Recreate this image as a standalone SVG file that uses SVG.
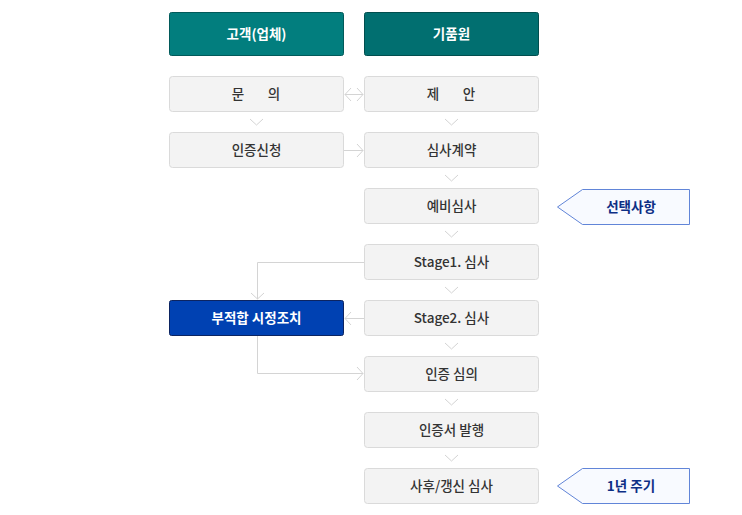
<svg xmlns="http://www.w3.org/2000/svg" width="742" height="515" viewBox="0 0 742 515">
<style>
text{font-family:"Noto Sans CJK KR","Noto Sans",sans-serif;font-size:13.5px;text-anchor:middle;dominant-baseline:central}
.box{fill:#f3f3f3;stroke:#dadada;stroke-width:1}
.bt{fill:#333;font-weight:500}
.hd{fill:#fff;font-weight:700}
.ln{fill:none;stroke:#d4d4d4;stroke-width:1}
.chev{fill:none;stroke:#d4d4d4;stroke-width:1}
.call{fill:#f8faff;stroke:#6185d8;stroke-width:1}
.ct{fill:#0d2f85;font-weight:700}
</style>
<rect width="742" height="515" fill="#fff"/>
<g id="hdr-client"><rect x="169.5" y="12.5" width="174" height="43" rx="2" fill="#027e7e" stroke="#015a5a"/><text class="hd" x="256.5" y="32.5">고객(업체)</text></g>
<g id="hdr-kpm"><rect x="364.5" y="12.5" width="174" height="43" rx="2" fill="#016f70" stroke="#014e4e"/><text class="hd" x="451.5" y="32.5">기품원</text></g>
<g id="n-inquiry"><rect class="box" x="169.5" y="76.5" width="174" height="35" rx="3"/><text class="bt" y="92.5"><tspan x="238">문</tspan><tspan x="274">의</tspan></text></g>
<g id="n-proposal"><rect class="box" x="364.5" y="76.5" width="174" height="35" rx="3"/><text class="bt" y="92.5"><tspan x="433">제</tspan><tspan x="469">안</tspan></text></g>
<g id="n-apply"><rect class="box" x="169.5" y="132.5" width="174" height="35" rx="3"/><text class="bt" x="256.5" y="148.5">인증신청</text></g>
<g id="n-contract"><rect class="box" x="364.5" y="132.5" width="174" height="35" rx="3"/><text class="bt" x="451.5" y="148.5">심사계약</text></g>
<g id="n-pre"><rect class="box" x="364.5" y="188.5" width="174" height="35" rx="3"/><text class="bt" x="451.5" y="204.5">예비심사</text></g>
<g id="n-stage1"><rect class="box" x="364.5" y="244.5" width="174" height="35" rx="3"/><text class="bt" x="451.5" y="260.5">Stage1. 심사</text></g>
<g id="n-stage2"><rect class="box" x="364.5" y="300.5" width="174" height="35" rx="3"/><text class="bt" x="451.5" y="316.5">Stage2. 심사</text></g>
<g id="n-nc"><rect x="169.5" y="300.5" width="174" height="35" rx="2" fill="#0041b2" stroke="#0c2461"/><text class="hd" x="256.5" y="316.5">부적합 시정조치</text></g>
<g id="n-review"><rect class="box" x="364.5" y="356.5" width="174" height="35" rx="3"/><text class="bt" x="451.5" y="372.5">인증 심의</text></g>
<g id="n-issue"><rect class="box" x="364.5" y="412.5" width="174" height="35" rx="3"/><text class="bt" x="451.5" y="428.5">인증서 발행</text></g>
<g id="n-post"><rect class="box" x="364.5" y="468.5" width="174" height="35" rx="3"/><text class="bt" x="451.5" y="484.5">사후/갱신 심사</text></g>
<g id="c-optional"><path class="call" d="M557.5,207 L582.5,189.5 H689.5 V224.5 H582.5 Z"/><text class="ct" x="631" y="205.5">선택사항</text></g>
<g id="c-yearly"><path class="call" d="M557.5,486 L582.5,468.5 H689.5 V503.5 H582.5 Z"/><text class="ct" x="631" y="484.5">1년 주기</text></g>
<g id="connectors">
<path class="ln" d="M345,94.5 H363"/>
<path class="chev" d="M351,88 L345,94.5 L351,101 M357,88 L363,94.5 L357,101"/>
<path class="chev" d="M250,119 L256.5,125 L263,119"/>
<path class="chev" d="M445,119 L451.5,125 L458,119"/>
<path class="ln" d="M344,150.5 H363"/>
<path class="chev" d="M357,144 L363,150.5 L357,157"/>
<path class="chev" d="M445,175 L451.5,181 L458,175"/>
<path class="chev" d="M445,231 L451.5,237 L458,231"/>
<path class="chev" d="M445,287 L451.5,293 L458,287"/>
<path class="chev" d="M445,343 L451.5,349 L458,343"/>
<path class="chev" d="M445,399 L451.5,405 L458,399"/>
<path class="chev" d="M445,455 L451.5,461 L458,455"/>
<path class="ln" d="M364,262.5 H257.5 V299"/>
<path class="chev" d="M251,293 L257.5,299 L264,293"/>
<path class="ln" d="M364,318.5 H345"/>
<path class="chev" d="M351,312 L345,318.5 L351,325"/>
<path class="ln" d="M257.5,336 V373.5 H363"/>
<path class="chev" d="M357,367 L363,373.5 L357,380"/>
</g>
</svg>
